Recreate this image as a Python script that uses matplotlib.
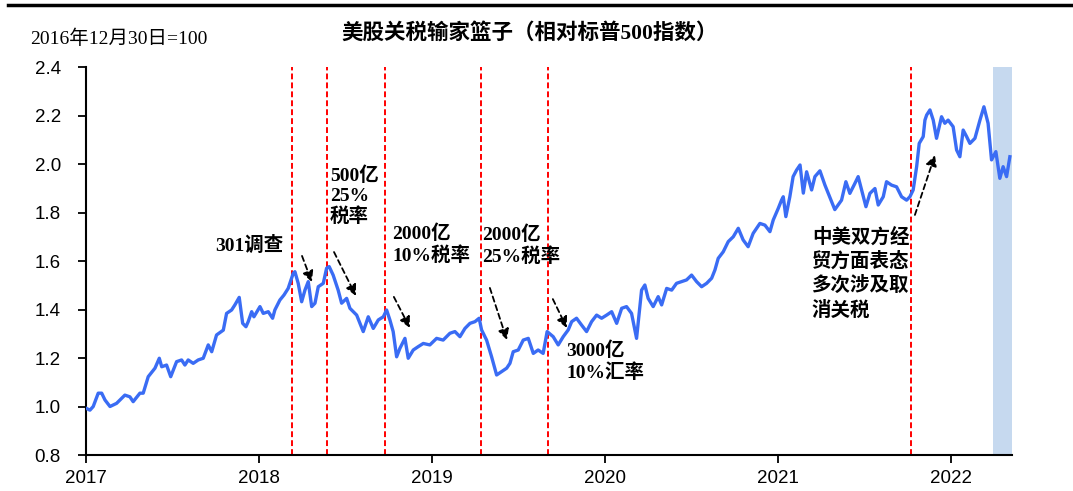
import numpy as np
import matplotlib.pyplot as plt
from matplotlib.lines import Line2D

# relative index (basket / S&P500), x in fractional years
years = [
    2017.000, 2017.023, 2017.042, 2017.071, 2017.091, 2017.110, 2017.139, 2017.177,
    2017.225, 2017.254, 2017.273, 2017.312, 2017.331, 2017.360, 2017.399, 2017.424,
    2017.438, 2017.466, 2017.490, 2017.524, 2017.553, 2017.572, 2017.591, 2017.620,
    2017.649, 2017.678, 2017.707, 2017.727, 2017.755, 2017.794, 2017.813, 2017.842,
    2017.861, 2017.886, 2017.906, 2017.925, 2017.938, 2017.958, 2017.971, 2018.006,
    2018.025, 2018.054, 2018.079, 2018.092, 2018.121, 2018.145, 2018.169, 2018.198,
    2018.208, 2018.227, 2018.247, 2018.266, 2018.285, 2018.305, 2018.324, 2018.343,
    2018.372, 2018.391, 2018.406, 2018.429, 2018.458, 2018.478, 2018.507, 2018.526,
    2018.565, 2018.603, 2018.632, 2018.661, 2018.690, 2018.719, 2018.738, 2018.757,
    2018.776, 2018.796, 2018.815, 2018.844, 2018.863, 2018.892, 2018.921, 2018.950,
    2018.988, 2019.027, 2019.065, 2019.104, 2019.133, 2019.162, 2019.191, 2019.220,
    2019.249, 2019.273, 2019.287, 2019.316, 2019.345, 2019.374, 2019.403, 2019.432,
    2019.451, 2019.470, 2019.499, 2019.528, 2019.557, 2019.586, 2019.614, 2019.643,
    2019.666, 2019.701, 2019.730, 2019.759, 2019.788, 2019.808, 2019.836, 2019.865,
    2019.894, 2019.923, 2019.952, 2019.981, 2020.010, 2020.039, 2020.068, 2020.097,
    2020.125, 2020.154, 2020.183, 2020.212, 2020.231, 2020.250, 2020.279, 2020.308,
    2020.328, 2020.357, 2020.386, 2020.414, 2020.443, 2020.472, 2020.501, 2020.530,
    2020.559, 2020.588, 2020.617, 2020.636, 2020.655, 2020.684, 2020.713, 2020.742,
    2020.771, 2020.799, 2020.828, 2020.857, 2020.896, 2020.925, 2020.954, 2020.973,
    2021.002, 2021.021, 2021.031, 2021.046, 2021.069, 2021.088, 2021.108, 2021.128,
    2021.147, 2021.166, 2021.195, 2021.214, 2021.243, 2021.272, 2021.301, 2021.329,
    2021.368, 2021.393, 2021.416, 2021.445, 2021.464, 2021.484, 2021.509, 2021.532,
    2021.561, 2021.580, 2021.609, 2021.628, 2021.657, 2021.686, 2021.715, 2021.744,
    2021.763, 2021.782, 2021.802, 2021.817, 2021.840, 2021.850, 2021.860, 2021.879,
    2021.898, 2021.917, 2021.946, 2021.965, 2021.984, 2022.013, 2022.033, 2022.052,
    2022.071, 2022.091, 2022.110, 2022.139, 2022.168, 2022.191, 2022.215, 2022.235,
    2022.260, 2022.283, 2022.302, 2022.322, 2022.341,
]
values = [
    0.993, 0.985, 1.000, 1.055, 1.055, 1.027, 1.000, 1.013,
    1.047, 1.040, 1.020, 1.055, 1.055, 1.123, 1.158, 1.199,
    1.164, 1.171, 1.123, 1.185, 1.192, 1.171, 1.192, 1.178,
    1.192, 1.199, 1.254, 1.226, 1.295, 1.315, 1.384, 1.398,
    1.419, 1.450, 1.343, 1.329, 1.350, 1.391, 1.370, 1.412,
    1.384, 1.391, 1.364, 1.398, 1.439, 1.460, 1.487, 1.549,
    1.556, 1.508, 1.432, 1.480, 1.515, 1.412, 1.426, 1.494,
    1.508, 1.570, 1.577, 1.542, 1.480, 1.426, 1.446, 1.405,
    1.377, 1.309, 1.370, 1.322, 1.357, 1.370, 1.398, 1.357,
    1.309, 1.205, 1.240, 1.281, 1.199, 1.233, 1.247, 1.260,
    1.254, 1.281, 1.274, 1.302, 1.309, 1.288, 1.322, 1.343,
    1.350, 1.364, 1.316, 1.274, 1.205, 1.130, 1.144, 1.158,
    1.178, 1.226, 1.233, 1.274, 1.281, 1.219, 1.233, 1.219,
    1.309, 1.288, 1.254, 1.288, 1.316, 1.350, 1.364, 1.336,
    1.309, 1.350, 1.377, 1.364, 1.377, 1.391, 1.343, 1.405,
    1.412, 1.384, 1.281, 1.480, 1.501, 1.446, 1.412, 1.453,
    1.419, 1.487, 1.480, 1.508, 1.515, 1.522, 1.542, 1.515,
    1.494, 1.508, 1.529, 1.563, 1.611, 1.638, 1.680, 1.700,
    1.735, 1.687, 1.659, 1.714, 1.755, 1.748, 1.721, 1.769,
    1.817, 1.851, 1.865, 1.783, 1.865, 1.948, 1.975, 1.996,
    1.880, 1.968, 1.893, 1.948, 1.972, 1.913, 1.862, 1.812,
    1.851, 1.927, 1.879, 1.920, 1.948, 1.893, 1.824, 1.879,
    1.899, 1.831, 1.865, 1.927, 1.913, 1.906, 1.865, 1.851,
    1.865, 1.893, 1.989, 2.085, 2.113, 2.181, 2.202, 2.223,
    2.181, 2.106, 2.195, 2.168, 2.181, 2.154, 2.058, 2.030,
    2.140, 2.113, 2.085, 2.106, 2.181, 2.236, 2.168, 2.017,
    2.051, 1.941, 1.989, 1.948, 2.030,
]

# tariff events (dates as fractional years)
event_x = [2018.191, 2018.393, 2018.728, 2019.283, 2019.671, 2021.769]
shade_span = (2022.243, 2022.353)

labels = ["301调查", "500亿\n25%\n税率", "2000亿\n10%税率", "2000亿\n25%税率",
          "3000亿\n10%汇率", "中美双方经\n贸方面表态\n多次涉及取\n消关税"]
label_pos = [(2017.746, 1.666), (2018.410, 1.990), (2018.769, 1.750),
             (2019.289, 1.745), (2019.775, 1.267), (2021.197, 1.740)]
label_va = ["center", "top", "top", "top", "top", "top"]
label_ls = [1.2, 1.2, 1.2, 1.2, 1.2, 1.35]
arrow_tail = [(2018.249, 1.621), (2018.434, 1.637), (2018.780, 1.452),
              (2019.335, 1.489), (2019.699, 1.443), (2021.792, 1.790)]
arrow_head = [(2018.306, 1.513), (2018.561, 1.456), (2018.873, 1.324),
              (2019.434, 1.274), (2019.780, 1.324), (2021.908, 2.037)]

cjk_serif = ["Liberation Serif", "Noto Sans CJK SC"]

fig = plt.figure(figsize=(10.73, 4.91), dpi=100)
ax = fig.add_axes([0.0801, 0.0733, 0.863, 0.7902])

ax.axvspan(shade_span[0], shade_span[1], color="#c6d9ef", lw=0, zorder=0)
for xv in event_x:
    ax.axvline(xv, color="#ff0000", lw=1.4, ls=(0, (3, 1.6)), zorder=1)
ax.plot(years, values, color="#3a6cf4", lw=2.4, zorder=3)

for txt, (tx, ty), va, ls in zip(labels, label_pos, label_va, label_ls):
    ax.text(tx, ty, txt, ha="left", va=va, fontsize=14, fontweight="bold",
            family=cjk_serif, linespacing=ls, zorder=4)
for (x0, y0), (x1, y1) in zip(arrow_tail, arrow_head):
    ax.annotate("", xy=(x1, y1), xytext=(x0, y0),
                arrowprops=dict(arrowstyle="-|>", color="black", lw=1.3,
                                linestyle=(0, (3, 2)), mutation_scale=16,
                                shrinkA=0, shrinkB=0), zorder=4)

ax.set_xlim(2017, shade_span[1])
ax.set_ylim(0.8, 2.4)
ax.set_xticks(range(2017, 2023))
ax.set_xticklabels([str(y) for y in range(2017, 2023)])
ax.set_yticks(np.arange(0.8, 2.41, 0.2))
ax.set_yticklabels([f"{v:.1f}" for v in np.arange(0.8, 2.41, 0.2)])
for lab in ax.get_xticklabels() + ax.get_yticklabels():
    lab.set_family("Liberation Sans")
    lab.set_fontsize(13.5)
ax.tick_params(direction="out", length=6, width=1.3, colors="black")
ax.tick_params(axis="x", pad=5)
ax.tick_params(axis="y", pad=12)
for s in ["top", "right"]:
    ax.spines[s].set_visible(False)
for s in ["left", "bottom"]:
    ax.spines[s].set_linewidth(1.5)

fig.text(0.494, 0.933, "美股关税输家篮子（相对标普500指数）", ha="center", va="center",
         fontsize=15.5, fontweight="bold", family=cjk_serif)
fig.text(0.028, 0.921, "2016年12月30日=100", ha="left", va="center",
         fontsize=14, family=cjk_serif)
fig.add_artist(Line2D([0.007, 1.0], [0.99, 0.99], color="black", lw=2.5,
                      transform=fig.transFigure))

fig.savefig("out.png", dpi=100)
